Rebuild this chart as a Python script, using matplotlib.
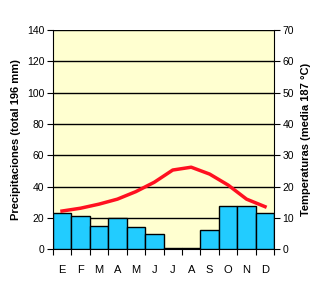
import matplotlib.pyplot as plt
import numpy as np

plt.rcParams['font.family'] = ['Liberation Sans', 'DejaVu Sans']

# Climate data
months = ['E', 'F', 'M', 'A', 'M', 'J', 'J', 'A', 'S', 'O', 'N', 'D']
precip = [23, 21, 15, 20, 14, 10, 0.5, 0.5, 12, 27.5, 27.5, 23]
temp = [12.2, 13.1, 14.4, 16.0, 18.4, 21.4, 25.3, 26.2, 24.0, 20.5, 16.0, 13.6]

fig = plt.figure(figsize=(3.2, 2.81), dpi=100)
ax = fig.add_axes([0.165, 0.113, 0.692, 0.780])
ax.set_facecolor('#FFFFD0')

x = np.arange(len(months))
ax.bar(x, precip, width=1.0, color='#22CCFF', edgecolor='black', linewidth=1, zorder=3)
ax.set_xlim(-0.5, 11.5)
ax.set_ylim(0, 140)
ax.set_yticks(range(0, 141, 20))
ax.grid(axis='y', color='black', linewidth=1, zorder=1)
ax.set_axisbelow(True)

# month boundaries as ticks, labels in the middle
ax.set_xticks(np.arange(-0.5, 12, 1))
ax.set_xticklabels([])
ax.set_xticks(x, minor=True)
ax.set_xticklabels(months, minor=True, fontsize=8)
ax.tick_params(axis='x', which='minor', length=0, pad=11)
ax.tick_params(axis='x', which='major', length=4, direction='out')
ax.tick_params(axis='y', labelsize=7.5, length=4, pad=2)

for side in ['top', 'right']:
    ax.spines[side].set_visible(False)
ax.set_ylabel('Precipitaciones (total 196 mm)', fontsize=8, fontweight='bold', labelpad=4)

ax2 = ax.twinx()
ax2.plot(x, temp, color='#FF1020', linewidth=2.5, zorder=5)
ax2.set_ylim(0, 70)
ax2.set_yticks(range(0, 71, 10))
ax2.tick_params(axis='y', labelsize=7.5, length=4, pad=2)
for side in ['top', 'left', 'bottom']:
    ax2.spines[side].set_visible(False)
ax2.set_ylabel('Temperaturas (media 187 °C)', fontsize=8, fontweight='bold', labelpad=5)

fig.savefig('out.png', dpi=100)
